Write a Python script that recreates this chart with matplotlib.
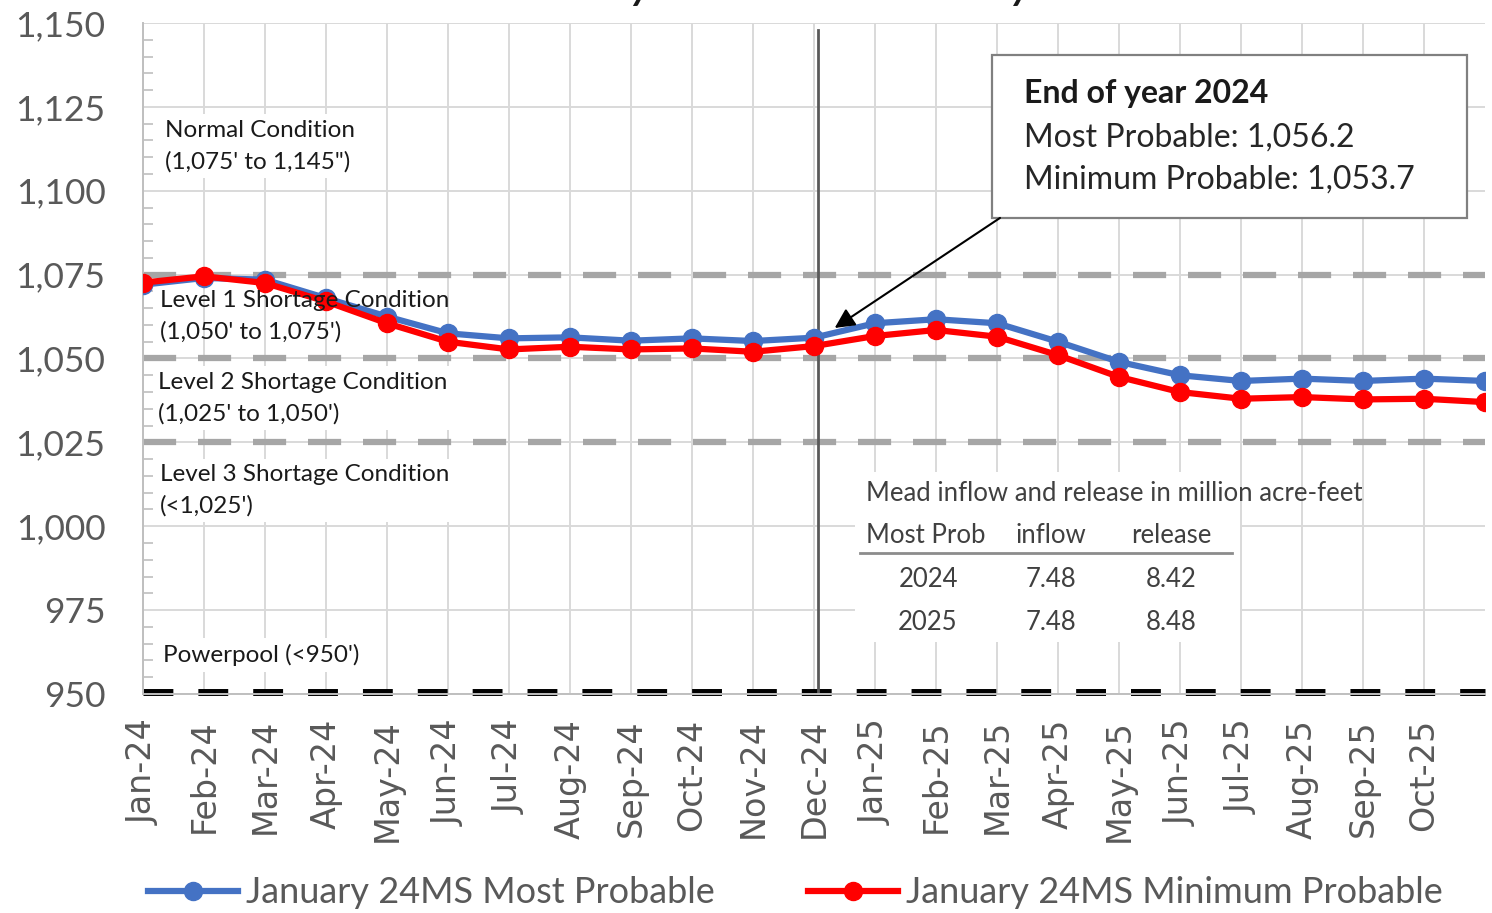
import numpy as np
import matplotlib.pyplot as plt
from matplotlib.ticker import MultipleLocator, FuncFormatter
from matplotlib.patches import Rectangle

plt.rcParams['font.family'] = ['Lato', 'DejaVu Sans']

months = ['Jan-24', 'Feb-24', 'Mar-24', 'Apr-24', 'May-24', 'Jun-24', 'Jul-24',
          'Aug-24', 'Sep-24', 'Oct-24', 'Nov-24', 'Dec-24', 'Jan-25', 'Feb-25',
          'Mar-25', 'Apr-25', 'May-25', 'Jun-25', 'Jul-25', 'Aug-25', 'Sep-25',
          'Oct-25', 'Nov-25']
most_prob = [1072.0, 1074.0, 1073.5, 1068.0, 1062.5, 1057.5, 1056.0, 1056.3,
             1055.3, 1056.0, 1055.2, 1056.2, 1060.5, 1061.7, 1060.5, 1055.0,
             1049.0, 1045.0, 1043.3, 1044.0, 1043.3, 1044.0, 1043.3]
min_prob = [1072.6, 1074.5, 1072.5, 1067.0, 1060.5, 1055.0, 1052.7, 1053.5,
            1052.7, 1053.0, 1052.0, 1053.7, 1056.7, 1058.5, 1056.5, 1051.0,
            1044.5, 1040.0, 1038.0, 1038.5, 1037.8, 1038.0, 1037.0]
shortage_levels = [1075, 1050, 1025]
powerpool = 950

years = ['2024', '2025']
inflow = [7.48, 7.48]
release = [8.42, 8.48]

x = np.arange(len(months))
grey_txt = '#595959'

fig = plt.figure(figsize=(14.92, 9.13), dpi=100)
ax = fig.add_axes([0.0958, 0.2399, 0.8995, 0.7349])

ax.set_xlim(0, len(months) - 1)
ax.set_ylim(950, 1150)
ax.yaxis.set_major_locator(MultipleLocator(25))
ax.yaxis.set_minor_locator(MultipleLocator(5))
ax.yaxis.set_major_formatter(FuncFormatter(lambda v, p: f'{v:,.0f}'))
ax.set_xticks(x[:-1])
ax.set_xticklabels(months[:-1], rotation=90, family='DejaVu Sans',
                   fontsize=24, color=grey_txt)
ax.tick_params(axis='x', length=0, pad=18)
ax.tick_params(axis='y', which='major', length=0, pad=27, labelsize=25.5,
               labelcolor=grey_txt)
ax.tick_params(axis='y', which='minor', direction='in', length=7,
               color='#bfbfbf', width=1.2)
ax.grid(True, which='major', color='#d9d9d9', lw=1.4)
ax.set_axisbelow(True)
for s in ['top', 'right']:
    ax.spines[s].set_visible(False)
ax.spines['left'].set_color('#bfbfbf')
ax.spines['bottom'].set_color('#bfbfbf')
ax.spines['left'].set_linewidth(1.4)
ax.spines['bottom'].set_linewidth(1.4)

# condition boundaries
for lvl in shortage_levels:
    ax.axhline(lvl, color='#a6a6a6', lw=4.5, dashes=(5.3, 3.5), zorder=2)
ax.axhline(powerpool + 0.5, color='black', lw=5, dashes=(4.3, 3.6),
           zorder=2, clip_on=False)

# end of 2024 marker line
ax.plot([11.07, 11.07], [950, 1148], color='#595959', lw=2, zorder=2)

# labels for the operating conditions
lab_kw = dict(fontsize=17.5, color='#1a1a1a', va='center', ha='left',
              linespacing=1.55, zorder=2.5)
white = dict(facecolor='white', edgecolor='none', pad=4)
ax.text(0.36, 1113.3, 'Normal Condition\n(1,075\' to 1,145")', bbox=white, **lab_kw)
ax.text(0.25, 1038.2, "Level 2 Shortage Condition\n(1,025' to 1,050')", bbox=white, **lab_kw)
ax.text(0.28, 1010.7, "Level 3 Shortage Condition\n(<1,025')", bbox=white, **lab_kw)
ax.text(0.33, 961.6, "Powerpool (<950')", bbox=white, **lab_kw)
lab_kw['zorder'] = 5
ax.text(0.28, 1062.5, "Level 1 Shortage Condition\n(1,050' to 1,075')", **lab_kw)

ax.plot(x, most_prob, color='#4472C4', lw=4.5, marker='o', markersize=13,
        label='January 24MS Most Probable', zorder=3)
ax.plot(x, min_prob, color='#FF0000', lw=4.5, marker='o', markersize=13,
        label='January 24MS Minimum Probable', zorder=4)

# end of year callout
ax.add_patch(Rectangle((13.92, 1091.9), 7.78, 48.6, facecolor='white',
                       edgecolor='#808080', lw=1.6, zorder=5))
box_kw = dict(fontsize=23, color='#262626', va='center', zorder=6)
ax.text(14.44, 1129.1, 'End of year 2024', fontweight='bold',
        **{**box_kw, 'color': '#1a1a1a'})
ax.text(14.44, 1116.0, f'Most Probable: {most_prob[11]:,.1f}', **box_kw)
ax.text(14.44, 1103.2, f'Minimum Probable: {min_prob[11]:,.1f}', **box_kw)
ax.annotate('', xy=(11.34, 1059.1), xytext=(14.05, 1091.9),
            arrowprops=dict(arrowstyle='-|>', color='black', lw=1.5,
                            mutation_scale=30, shrinkA=0, shrinkB=0),
            zorder=5)

# inflow / release table
ax.add_patch(Rectangle((11.67, 965.5), 6.31, 50.7, facecolor='white',
                       edgecolor='none', zorder=2.5))
tab_kw = dict(fontsize=18.5, color='#404040', va='center', zorder=6)
ax.text(11.85, 1009.9, 'Mead inflow and release in million acre-feet', **tab_kw)
ax.text(11.85, 997.1, 'Most Prob', ha='left', **tab_kw)
ax.text(14.89, 997.1, 'inflow', ha='center', **tab_kw)
ax.text(16.85, 997.1, 'release', ha='center', **tab_kw)
ax.plot([11.75, 17.85], [992.0, 992.0], color='#8c8c8c', lw=2, zorder=6)
for i, yr in enumerate(years):
    yy = 984.0 - i * 12.8
    ax.text(12.87, yy, yr, ha='center', **tab_kw)
    ax.text(14.89, yy, f'{inflow[i]:.2f}', ha='center', **tab_kw)
    ax.text(16.85, yy, f'{release[i]:.2f}', ha='center', **tab_kw)

fig.text(0.52, 1.0, 'January 2024 24-Month Study', fontsize=28,
         fontweight='bold', style='italic', ha='center', va='baseline',
         color='#1a1a1a')

leg = fig.legend(loc='center', bbox_to_anchor=(0.533, 0.022), ncol=2,
                 frameon=False, fontsize=26, handlelength=2.5,
                 columnspacing=2.6, handletextpad=0.2)
for t in leg.get_texts():
    t.set_color(grey_txt)

fig.savefig('out.png', dpi=100)
